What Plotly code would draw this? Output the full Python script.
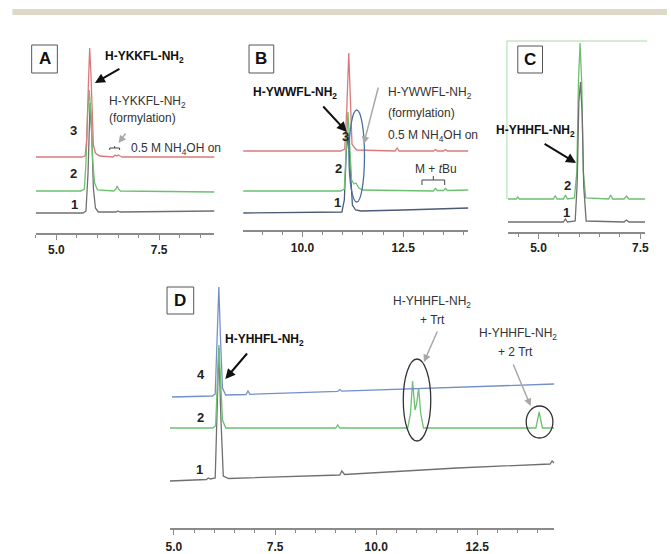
import plotly.graph_objects as go

W, H = 671, 554

# ---------------- data (retention time in min, signal in arbitrary units) ----------------
# Panel A
A_red_x = [4.50, 5.62, 5.70, 5.74, 5.78, 5.81, 5.84, 5.87, 5.90, 5.95, 6.05, 6.38, 6.43, 6.47, 6.51, 6.55, 6.60, 7.50, 8.85]
A_red_y = [76, 76, 77, 95, 150, 185, 160, 110, 88, 80, 77, 76, 78, 77, 78, 77, 76, 76, 76]
A_green_x = [4.50, 5.60, 5.68, 5.72, 5.76, 5.80, 5.84, 5.88, 5.93, 6.00, 6.40, 6.45, 6.48, 6.51, 6.56, 8.85]
A_green_y = [42, 42, 44, 70, 120, 143, 120, 75, 50, 43, 42, 44, 47, 44, 42, 41]
A_gray_x = [4.50, 5.65, 5.72, 5.77, 5.82, 5.86, 5.90, 5.95, 6.02, 6.45, 6.50, 6.55, 8.85]
A_gray_y = [20, 20, 22, 60, 130, 100, 45, 25, 21, 21, 22, 21, 22]

# Panel B
B_red_x = [8.53, 10.95, 11.05, 11.10, 11.15, 11.19, 11.23, 11.28, 11.35, 12.30, 12.35, 12.40, 13.25, 13.30, 13.35, 13.50, 13.55, 13.60, 14.12]
B_red_y = [79, 79, 81, 120, 177, 120, 86, 83, 80, 79, 82, 79, 79, 80.5, 79, 79, 80.5, 79, 79]
B_green_x = [8.53, 10.95, 11.04, 11.09, 11.13, 11.18, 11.22, 11.28, 11.33, 11.40, 11.50, 13.25, 13.30, 13.35, 13.50, 13.55, 13.60, 14.12]
B_green_y = [39, 39, 41, 80, 118, 80, 50, 46, 47, 42, 40, 39, 41.5, 39.5, 39.5, 41.5, 39.5, 40]
B_dark_x = [8.53, 10.00, 10.98, 11.04, 11.09, 11.14, 11.19, 11.24, 11.32, 11.45, 12.50, 13.30, 14.12]
B_dark_y = [17, 17.5, 18, 30, 80, 95, 60, 25, 20, 19, 20, 21, 22]

# Panel C
C_green_x = [4.23, 4.45, 4.49, 4.53, 5.36, 5.41, 5.46, 5.61, 5.66, 5.71, 5.88, 5.94, 5.98, 6.02, 6.06, 6.10, 6.16, 6.72, 6.77, 6.82, 7.10, 7.16, 7.22, 7.62]
C_green_y = [33, 33, 35, 33, 33, 36, 33, 33, 37, 33, 34, 60, 150, 189, 150, 60, 34, 33, 37, 33, 33, 36, 33, 33]
C_gray_x = [4.25, 5.61, 5.66, 5.71, 5.90, 5.95, 5.99, 6.03, 6.07, 6.11, 6.17, 7.10, 7.16, 7.22, 7.62]
C_gray_y = [10, 10, 13, 10, 11, 50, 130, 150, 120, 45, 11, 10, 12, 10, 10]

# Panel D
D_blue_x = [4.95, 5.95, 6.02, 6.07, 6.11, 6.15, 6.20, 6.28, 6.78, 6.83, 6.88, 9.05, 9.10, 9.15, 14.40]
D_blue_y = [131, 132, 134, 200, 241, 190, 140, 133, 133.5, 137, 133.7, 136.6, 138.5, 136.8, 144]
D_green_x = [4.90, 5.95, 6.03, 6.07, 6.11, 6.15, 6.20, 6.28, 9.00, 9.05, 9.10, 10.78, 10.85, 10.90, 10.96, 11.00, 11.05, 11.10, 11.17, 13.95, 14.00, 14.03, 14.06, 14.11, 14.40]
D_green_y = [100, 100, 102, 150, 183, 150, 108, 100, 100, 103, 100, 100, 115, 147, 118, 124, 140, 115, 100, 100, 110, 116, 110, 100, 100]
D_gray_x = [4.90, 5.80, 5.85, 5.90, 6.02, 6.07, 6.11, 6.16, 6.22, 6.35, 9.10, 9.15, 9.22, 12.00, 14.30, 14.35, 14.40]
D_gray_y = [47, 48.5, 50, 49, 50, 130, 180, 110, 52, 49.5, 53, 57, 53.5, 60, 64, 67, 65]

tick_vals = [5.0, 7.5, 10.0, 12.5]

RED = "#d9797a"
GREEN = "#6cc070"
GRAY = "#707070"
DARK = "#4c5a78"
BLUE = "#7391c8"

# ---------------- helpers (pixel -> paper) ----------------
def px(x):
    return x / W


def py(y):
    return 1 - y / H


fig = go.Figure()


def add(xs, ys, color, ax, width=1.3):
    fig.add_trace(go.Scatter(x=xs, y=ys, mode="lines", line=dict(color=color, width=width),
                             xaxis="x" + ax, yaxis="y" + ax, hoverinfo="skip", showlegend=False))


add(A_gray_x, A_gray_y, GRAY, "")
add(A_green_x, A_green_y, GREEN, "")
add(A_red_x, A_red_y, RED, "")
add(B_dark_x, B_dark_y, DARK, "2")
add(B_green_x, B_green_y, GREEN, "2")
add(B_red_x, B_red_y, RED, "2")
add(C_green_x, C_green_y, GREEN, "3")
add(C_gray_x, C_gray_y, GRAY, "3")
add(D_gray_x, D_gray_y, GRAY, "4")
add(D_green_x, D_green_y, GREEN, "4")
add(D_blue_x, D_blue_y, BLUE, "4")

xstyle = dict(showline=True, linecolor="#8a8a8a", linewidth=1.5, ticks="outside", ticklen=5,
              tickcolor="#8a8a8a", tickwidth=1, tickvals=tick_vals, ticktext=[f"{v:.1f}" for v in tick_vals],
              minor=dict(dtick=0.5, tick0=0, ticks="outside", ticklen=3, tickcolor="#8a8a8a"),
              showgrid=False, zeroline=False, fixedrange=True,
              tickfont=dict(family="Liberation Sans", size=12, color="#222", weight="bold"))
ystyle = dict(visible=False, fixedrange=True)

panels = {
    "": dict(x=(32, 213), y=(233, 40), xr=(4.495, 8.846), so=0),
    "2": dict(x=(242, 470), y=(230, 40), xr=(8.529, 14.118), so=1),
    "3": dict(x=(510, 649), y=(232, 40), xr=(4.248, 7.621), so=-1),
    "4": dict(x=(168, 557), y=(528, 280), xr=(4.902, 14.406), so=2),
}
layout_axes = {}
for k, p in panels.items():
    layout_axes["xaxis" + k] = dict(xstyle, domain=[px(p["x"][0]), px(p["x"][1])],
                                    range=list(p["xr"]), anchor="y" + k, ticklabelstandoff=p["so"])
    layout_axes["yaxis" + k] = dict(ystyle, domain=[py(p["y"][0]), py(p["y"][1])],
                                    range=[0, p["y"][0] - p["y"][1]], anchor="x" + k)

shapes = []
# beige top band
shapes.append(dict(type="rect", xref="paper", yref="paper", x0=px(8.5), x1=1, y0=py(15), y1=py(9),
                   fillcolor="#ddd9c6", line=dict(width=0), layer="below"))
# panel letter boxes
for (x0, y0, x1, y1) in [(28, 45, 54, 73), (248, 45, 273, 73), (520, 46, 545, 73), (165, 287, 192, 314)]:
    shapes.append(dict(type="rect", xref="paper", yref="paper", x0=px(x0), x1=px(x1), y0=py(y1), y1=py(y0),
                       line=dict(color="#555", width=1), fillcolor="white"))
# green frame in panel C
shapes.append(dict(type="path", xref="paper", yref="paper",
                   path=f"M{px(509)},{py(199)} L{px(509)},{py(41)} L{px(651)},{py(41)}",
                   line=dict(color="#a9d9a9", width=1)))
# ellipses
shapes.append(dict(type="circle", xref="x2", yref="y2", x0=11.155, x1=11.54, y0=28, y1=120,
                   line=dict(color="#4d6f9e", width=1.3)))
shapes.append(dict(type="circle", xref="x4", yref="y4", x0=10.67, x1=11.35, y0=87, y1=169,
                   line=dict(color="#333", width=1.3)))
shapes.append(dict(type="circle", xref="x4", yref="y4", x0=13.71, x1=14.37, y0=90, y1=122,
                   line=dict(color="#333", width=1.3)))


def bracket(x0, x1, y, drop, rise):
    xm = (x0 + x1) / 2
    return dict(type="path", xref="paper", yref="paper",
                path=(f"M{px(x0)},{py(y + drop)} L{px(x0)},{py(y)} L{px(x1)},{py(y)} L{px(x1)},{py(y + drop)} "
                      f"M{px(xm)},{py(y)} L{px(xm)},{py(y - rise)}"),
                line=dict(color="#444", width=1))


shapes.append(bracket(107, 117, 148, 2, 2))
shapes.append(bracket(423, 446, 180, 5, 4))

ann = []


def text(x, y, s, size=12, bold=False, anchor="center", color="#333"):
    ann.append(dict(x=px(x), y=py(y), xref="paper", yref="paper", text=s, showarrow=False,
                    xanchor=anchor, yanchor="middle",
                    font=dict(family="Liberation Sans", size=size, color=color,
                              weight="bold" if bold else "normal")))


def arrow(x0, y0, x1, y1, color="#111", width=2):
    ann.append(dict(x=px(x1), y=py(y1), xref="paper", yref="paper", ax=x0 - x1, ay=y0 - y1,
                    axref="pixel", ayref="pixel", text="", showarrow=True, arrowhead=2,
                    arrowsize=1, arrowwidth=width, arrowcolor=color))


# letters
text(41, 59, "A", 17, True, color="#111")
text(260.5, 59, "B", 17, True, color="#111")
text(532.5, 59.5, "C", 17, True, color="#111")
text(178.5, 300.5, "D", 17, True, color="#111")

# trace numbers
for (x, y, s) in [(70, 130, "3"), (70, 173, "2"), (71, 205, "1"),
                  (346, 137, "3"), (339, 168, "2"), (338, 202, "1"),
                  (570, 185, "2"), (569, 212, "1"),
                  (199, 374, "4"), (199, 417, "2"), (198, 469, "1")]:
    text(x, y, s, 13, True, color="#222")

# panel A labels
text(142, 57, "H-YKKFL-NH<sub>2</sub>", 12, True, color="#111")
arrow(118, 68, 92, 83)
text(145, 102, "H-YKKFL-NH<sub>2</sub>", 12)
text(140, 118, "(formylation)", 12)
arrow(124, 132, 116, 143, "#a8a8a8", 1.5)
text(127, 149, "0.5 M NH<sub>4</sub>OH on", 12, anchor="left")

# panel B labels
text(295, 93, "H-YWWFL-NH<sub>2</sub>", 12, True, color="#111")
arrow(322, 105, 347, 132)
text(387, 93, "H-YWWFL-NH<sub>2</sub>", 12, anchor="left")
text(387, 113, "(formylation)", 12, anchor="left")
arrow(379, 86, 364, 144, "#a8a8a8", 1.5)
text(387, 136, "0.5 M NH<sub>4</sub>OH on", 12, anchor="left")
text(437, 169, "M + <i>t</i>Bu", 12)

# panel C labels
text(538, 131, "H-YHHFL-NH<sub>2</sub>", 12, True, color="#111")
arrow(546, 143, 579, 163)

# panel D labels
text(264, 340, "H-YHHFL-NH<sub>2</sub>", 12, True, color="#111")
arrow(247, 352, 224, 379)
text(433, 302, "H-YHHFL-NH<sub>2</sub>", 12)
text(434, 320, "+ Trt", 12)
arrow(439, 330, 425, 362, "#a8a8a8", 1.5)
text(520, 334, "H-YHHFL-NH<sub>2</sub>", 12)
text(518, 352, "+ 2 Trt", 12)
arrow(515, 363, 533, 406, "#a8a8a8", 1.5)

fig.update_layout(width=W, height=H, margin=dict(l=0, r=0, t=0, b=0), paper_bgcolor="white",
                  plot_bgcolor="white", showlegend=False, shapes=shapes, annotations=ann,
                  **layout_axes)

fig.write_html("out.html", config={"displayModeBar": False},
               post_script="document.body.style.margin='0';document.body.style.padding='0';")
